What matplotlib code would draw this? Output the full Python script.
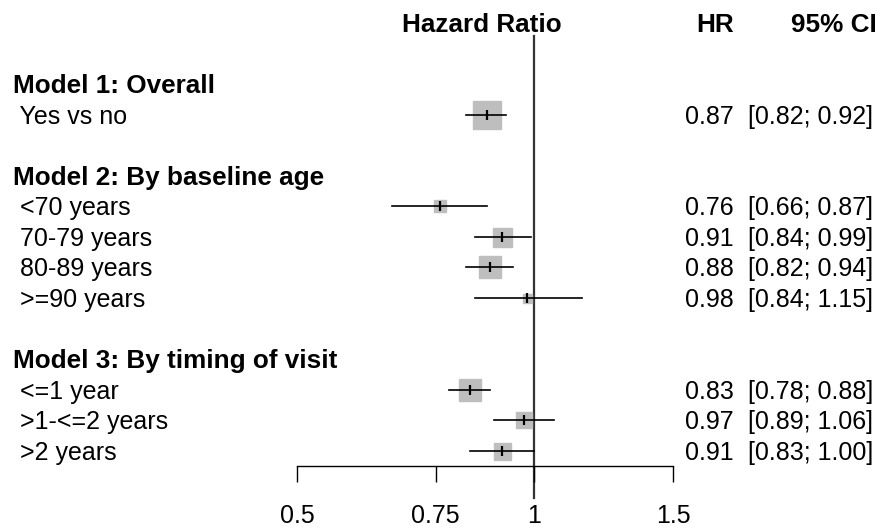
import matplotlib
matplotlib.use("Agg")
import matplotlib.pyplot as plt
import numpy as np

plt.rcParams['font.family'] = ['Liberation Sans', 'DejaVu Sans']

# ---- data ----
group_titles = ["Model 1: Overall", "Model 2: By baseline age", "Model 3: By timing of visit"]
labels = ["Yes vs no",
          "<70 years", "70-79 years", "80-89 years", ">=90 years",
          "<=1 year", ">1-<=2 years", ">2 years"]
group_of = [0, 1, 1, 1, 1, 2, 2, 2]
hr = [0.87, 0.76, 0.91, 0.88, 0.98, 0.83, 0.97, 0.91]
ci_low = [0.82, 0.66, 0.84, 0.82, 0.84, 0.78, 0.89, 0.83]
ci_high = [0.92, 0.87, 0.99, 0.94, 1.15, 0.88, 1.06, 1.00]
weights = [28, 12, 19, 22, 9, 23, 16, 17]   # relative box sizes (study weights)
xticks = [0.5, 0.75, 1, 1.5]
xtick_labels = ["0.5", "0.75", "1", "1.5"]

# ---- layout ----
W, H = 881, 531
fig = plt.figure(figsize=(W / 100, H / 100), dpi=100)

x0_px, x1_px = 297, 673
top_px, bot_px = 10, 465.7
row2_px, row_sp = 84.0, 30.58

def px2row(p):
    return (p - row2_px) / row_sp + 2

ax = fig.add_axes([x0_px / W, (H - bot_px) / H, (x1_px - x0_px) / W, (bot_px - top_px) / H])
ax.set_xscale('log')
ax.set_xlim(0.5, 1.5)
ax.set_ylim(px2row(bot_px), px2row(top_px))
for s in ['top', 'right', 'left']:
    ax.spines[s].set_visible(False)
ax.spines['bottom'].set_linewidth(1.0)
ax.set_yticks([])
ax.set_xticks(xticks)
ax.set_xticklabels(xtick_labels)
ax.xaxis.set_minor_locator(matplotlib.ticker.NullLocator())
ax.tick_params(axis='x', direction='out', length=11.5, width=1.0, pad=16, labelsize=18)

# row assignment
rows = []
title_rows = []
r = 2
prev_g = None
for g in group_of:
    if g != prev_g:
        if prev_g is not None:
            r += 1
        title_rows.append(r)
        r += 1
        prev_g = g
    rows.append(r)
    r += 1

# reference line
ax.plot([1, 1], [px2row(36), px2row(498)], color='#333333', lw=1.6, clip_on=False, zorder=1)

# boxes, CIs
for i in range(len(hr)):
    y = rows[i]
    ax.plot(hr[i], y, marker='s', markersize=weights[i] * 0.72, color='#BEBEBE',
            mec='#BEBEBE', zorder=2, clip_on=False)
    ax.plot([ci_low[i], ci_high[i]], [y, y], color='black', lw=1.2, zorder=3, clip_on=False)
    ax.plot(hr[i], y, marker='|', markersize=7, mew=1.6, color='black', zorder=4, clip_on=False)

# text
trans = ax.get_yaxis_transform()
def xa(px):
    return (px - x0_px) / (x1_px - x0_px)

base_off = 9 / row_sp
fs = 18
fsb = 18.8
ax.text(xa(482), 0 + base_off, "Hazard Ratio", transform=trans, ha='center', va='baseline',
        fontsize=fsb, fontweight='bold', clip_on=False)
ax.text(xa(734), 0 + base_off, "HR", transform=trans, ha='right', va='baseline',
        fontsize=fsb, fontweight='bold', clip_on=False)
ax.text(xa(877), 0 + base_off, "95% CI", transform=trans, ha='right', va='baseline',
        fontsize=fsb, fontweight='bold', clip_on=False)

for k, t in enumerate(group_titles):
    ax.text(xa(13), title_rows[k] + base_off, t, transform=trans, ha='left', va='baseline',
            fontsize=fsb, fontweight='bold', clip_on=False)

for i, lab in enumerate(labels):
    y = rows[i] + base_off
    ax.text(xa(13), y, " " + lab, transform=trans, ha='left', va='baseline', fontsize=fs, clip_on=False)
    ax.text(xa(734), y, f"{hr[i]:.2f}", transform=trans, ha='right', va='baseline', fontsize=fs, clip_on=False)
    ax.text(xa(873), y, f"[{ci_low[i]:.2f}; {ci_high[i]:.2f}]", transform=trans, ha='right',
            va='baseline', fontsize=fs, clip_on=False)

fig.savefig("out.png", dpi=100)
